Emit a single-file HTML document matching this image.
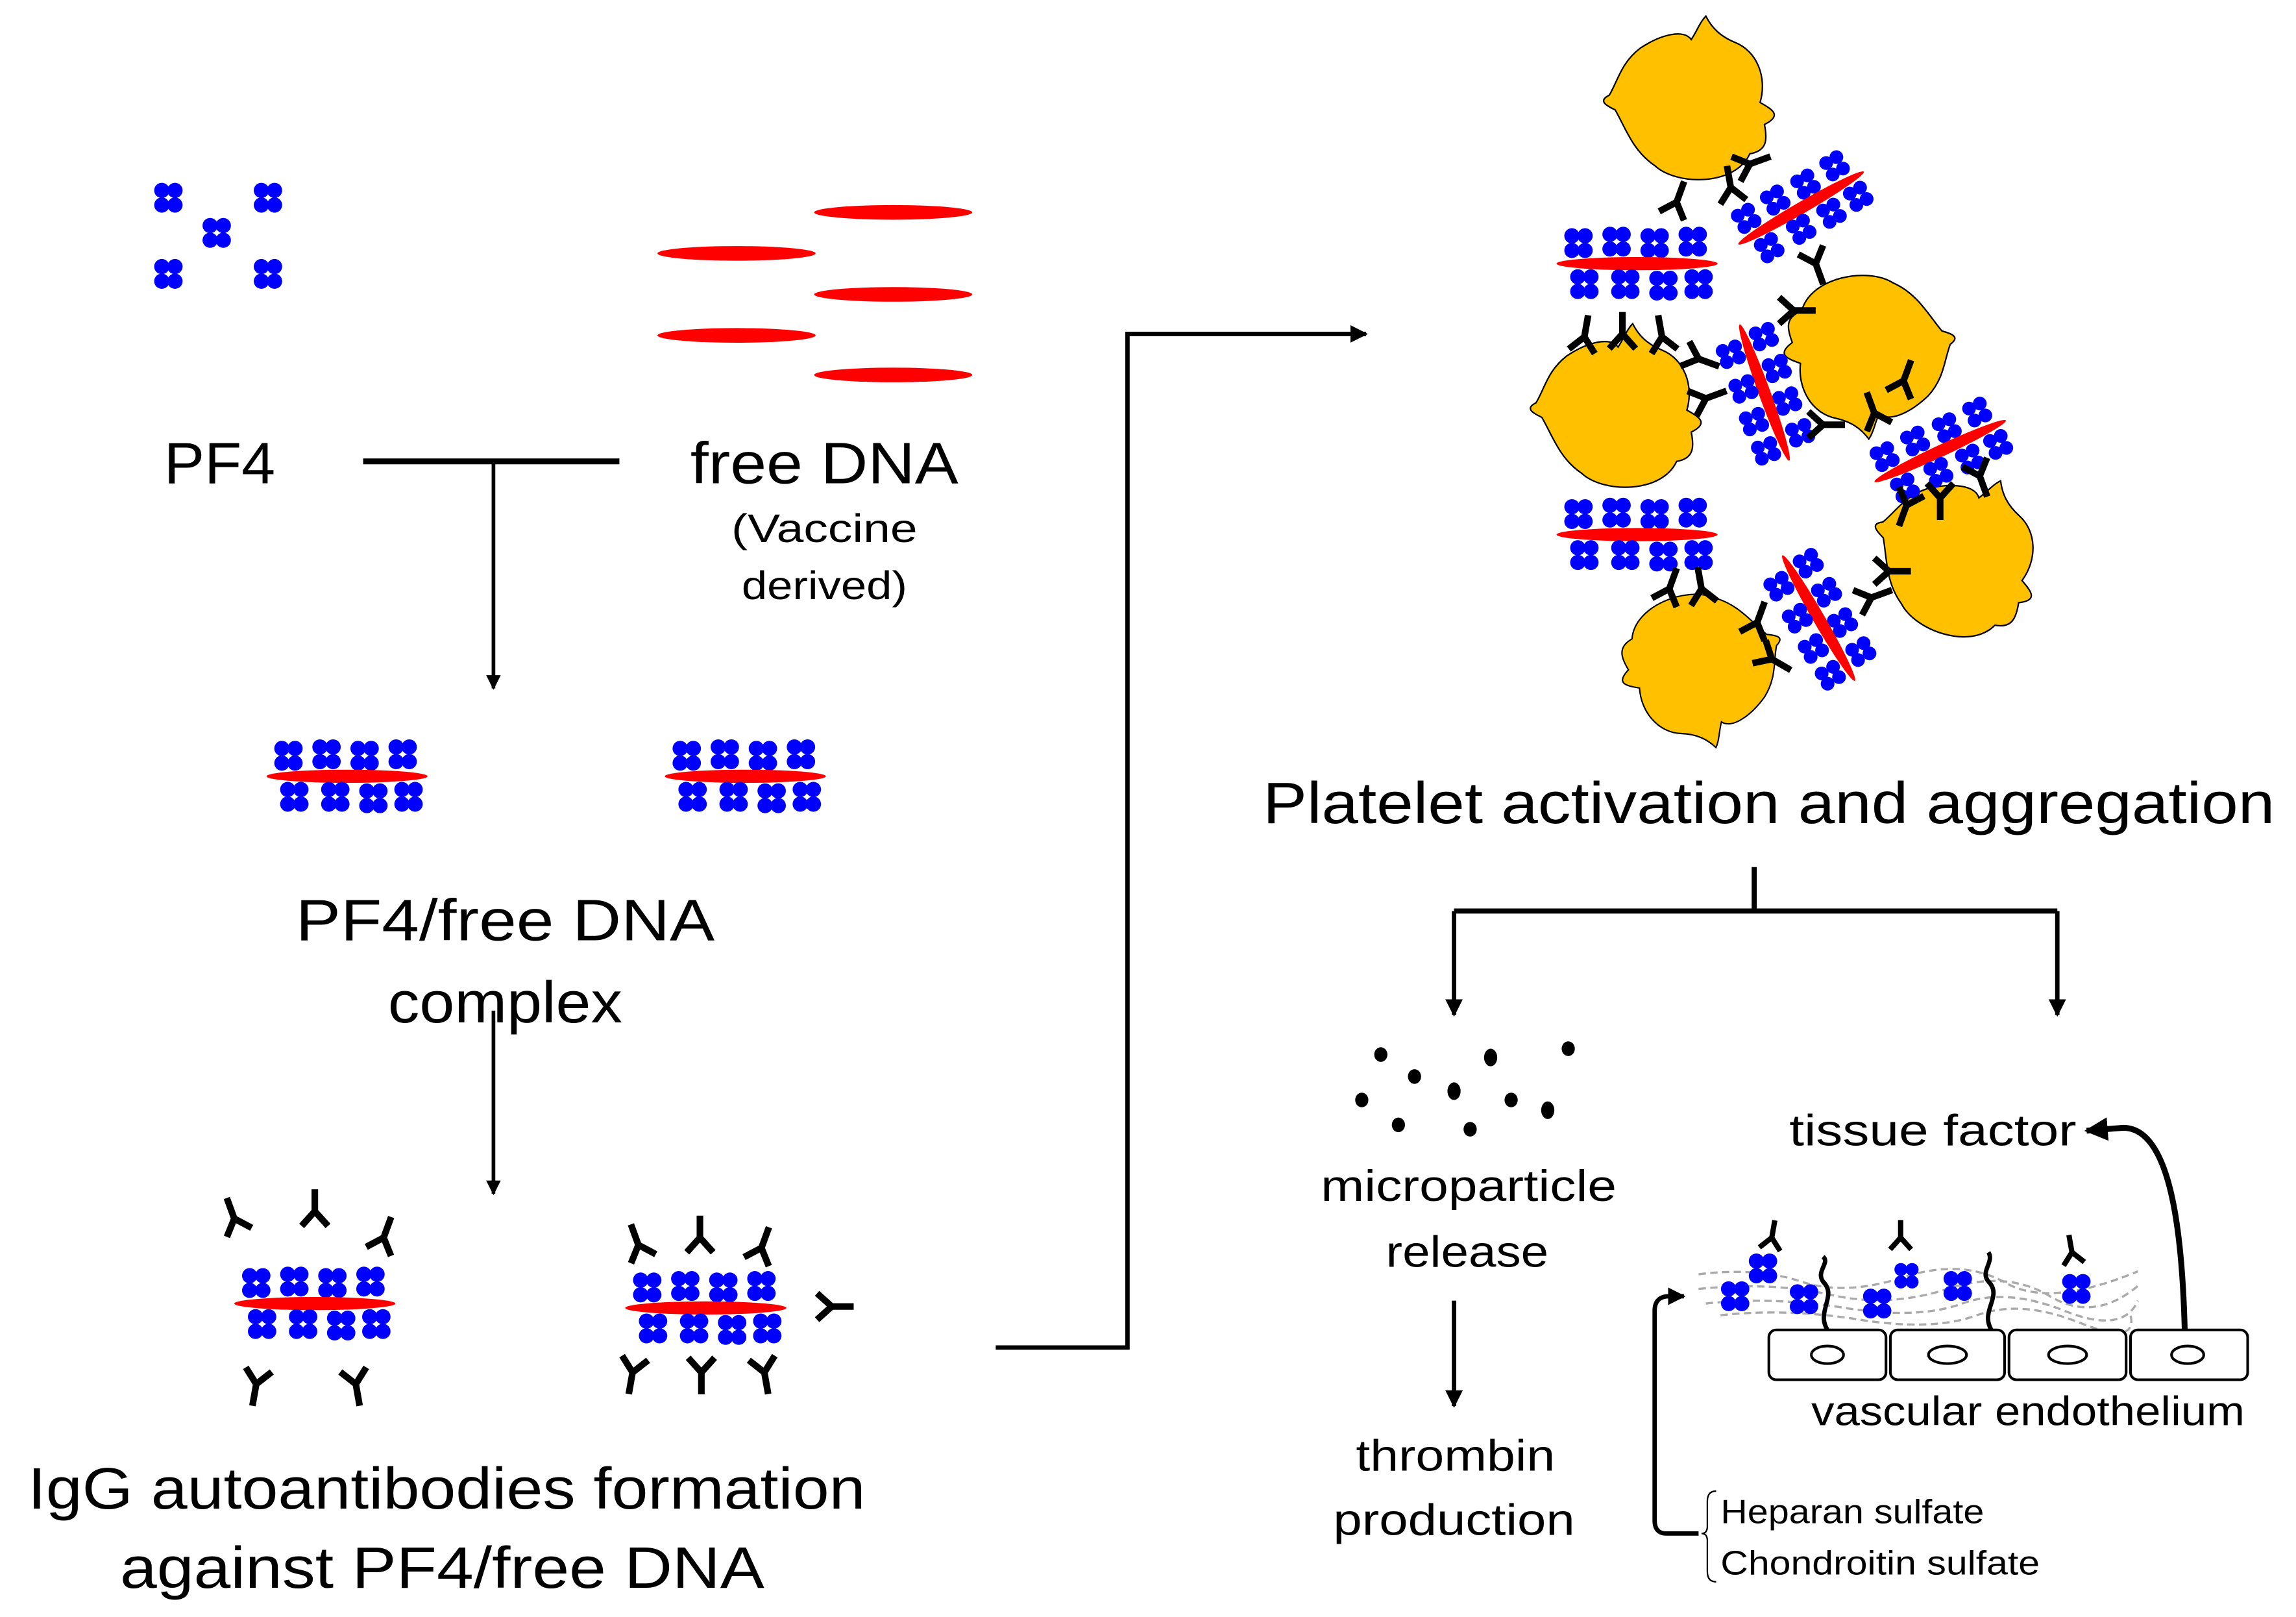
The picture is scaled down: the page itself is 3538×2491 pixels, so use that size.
<!DOCTYPE html>
<html><head><meta charset="utf-8"><style>html,body{margin:0;padding:0;background:#fff}svg{display:block}text{font-family:"Liberation Sans",sans-serif;fill:#000}</style></head><body>
<svg width="3538" height="2491" viewBox="0 0 1568 1104" preserveAspectRatio="none" xmlns="http://www.w3.org/2000/svg">
<defs>
<g id="t"><circle cx="-4.5" cy="-5" r="5.2" fill="#0000ff"/><circle cx="4.5" cy="-5" r="5.2" fill="#0000ff"/><circle cx="-4.5" cy="5" r="5.2" fill="#0000ff"/><circle cx="4.5" cy="5" r="5.2" fill="#0000ff"/></g>
<g id="c"><use href="#t" x="-40" y="-14"/><use href="#t" x="-14" y="-15"/><use href="#t" x="12" y="-14"/><use href="#t" x="38" y="-15"/><ellipse cx="0" cy="0" rx="55" ry="4.5" fill="#ff0000"/><use href="#t" x="-36" y="14"/><use href="#t" x="-8" y="14"/><use href="#t" x="18" y="15"/><use href="#t" x="42" y="14"/></g>
<g id="a"><path d="M0,15 L0,0 L-9,-10 M0,0 L9,-10" stroke="#000" stroke-width="4.5" fill="none"/></g>
<path id="p" d="M-40,-30 C-30,-52 10,-52 25,-38 C40,-28 45,-12 52,0 C58,3 64,6 56,10 C50,20 48,32 35,42 C20,52 5,55 0,48 C-4,54 -6,60 -10,64 C-14,56 -20,50 -30,46 C-45,40 -52,22 -47,5 C-56,0 -62,-4 -50,-10 C-52,-20 -52,-28 -40,-30 Z" fill="#ffc000" stroke="#000" stroke-width="1"/>
<marker id="m" viewBox="0 0 10 10" refX="9" refY="5" markerWidth="4" markerHeight="4" orient="auto"><path d="M0,0 L10,5 L0,10 Z" fill="#000"/></marker>
</defs>
<use href="#t" x="115" y="135"/><use href="#t" x="183" y="135"/><use href="#t" x="148" y="159"/><use href="#t" x="115" y="187"/><use href="#t" x="183" y="187"/>
<g fill="#ff0000"><ellipse cx="610" cy="145" rx="54" ry="5"/><ellipse cx="503" cy="173" rx="54" ry="5"/><ellipse cx="610" cy="201" rx="54" ry="5"/><ellipse cx="503" cy="229" rx="54" ry="5"/><ellipse cx="610" cy="256" rx="54" ry="5"/></g>
<text x="150" y="330" font-size="40" text-anchor="middle" textLength="76" lengthAdjust="spacingAndGlyphs">PF4</text>
<text x="563" y="330" font-size="40" text-anchor="middle" textLength="183" lengthAdjust="spacingAndGlyphs">free DNA</text>
<text x="563" y="370" font-size="27" text-anchor="middle" textLength="127" lengthAdjust="spacingAndGlyphs">(Vaccine</text>
<text x="563" y="409" font-size="27" text-anchor="middle" textLength="113" lengthAdjust="spacingAndGlyphs">derived)</text>
<g stroke="#000" fill="none">
<path d="M248,315 H423" stroke-width="4"/>
<path d="M337,315 V470" stroke-width="2.5" marker-end="url(#m)"/>
<path d="M337,690 V815" stroke-width="2.5" marker-end="url(#m)"/>
<path d="M680,920 H770 V228 H933" stroke-width="3" marker-end="url(#m)"/>
<path d="M1198,592 V622 M993,622 H1405" stroke-width="3.5"/>
<path d="M993,622 V693" stroke-width="3" marker-end="url(#m)"/>
<path d="M1405,622 V693" stroke-width="3" marker-end="url(#m)"/>
<path d="M993,888 V960" stroke-width="3" marker-end="url(#m)"/>
<path d="M1492,908 C1490,830 1480,770 1450,770 L1425,772" stroke-width="4" marker-end="url(#m)"/>
<path d="M1160,1047 H1138 Q1130,1047 1130,1038 V895 Q1130,885 1140,885 H1150" stroke-width="3" marker-end="url(#m)"/>
</g>
<use href="#c" x="237" y="530"/>
<use href="#c" x="509" y="530"/>
<text x="345" y="642" font-size="40" text-anchor="middle" textLength="286" lengthAdjust="spacingAndGlyphs">PF4/free DNA</text>
<text x="345" y="698" font-size="40" text-anchor="middle" textLength="160" lengthAdjust="spacingAndGlyphs">complex</text>
<use href="#c" x="215" y="890"/><use href="#c" x="482" y="893"/>
<use href="#a" transform="translate(160,832) rotate(160)"/><use href="#a" transform="translate(215,827) rotate(180)"/><use href="#a" transform="translate(262,845) rotate(200)"/>
<use href="#a" transform="translate(175,945) rotate(10)"/><use href="#a" transform="translate(243,945) rotate(-10)"/>
<use href="#a" transform="translate(436,850) rotate(160)"/><use href="#a" transform="translate(478,845) rotate(180)"/><use href="#a" transform="translate(520,852) rotate(200)"/>
<use href="#a" transform="translate(432,937) rotate(10)"/><use href="#a" transform="translate(479,937)"/><use href="#a" transform="translate(522,937) rotate(-10)"/>
<use href="#a" transform="translate(568,892) rotate(-90)"/>
<text x="305" y="1030" font-size="40" text-anchor="middle" textLength="572" lengthAdjust="spacingAndGlyphs">IgG autoantibodies formation</text>
<text x="302" y="1084" font-size="40" text-anchor="middle" textLength="440" lengthAdjust="spacingAndGlyphs">against PF4/free DNA</text>
<use href="#p" transform="translate(1155,75) rotate(180)"/>
<use href="#p" transform="translate(1275,235) rotate(-10)"/>
<use href="#p" transform="translate(1105,285) rotate(180)"/>
<use href="#p" transform="translate(1335,385) rotate(200)"/>
<use href="#p" transform="translate(1160,450) rotate(-20) scale(0.95)"/>
<use href="#c" x="1118" y="180"/><use href="#c" x="1118" y="365"/>
<use href="#c" transform="translate(1230,142) rotate(-30) scale(0.9)"/>
<use href="#c" transform="translate(1205,268) rotate(70) scale(0.9)"/>
<use href="#c" transform="translate(1325,308) rotate(-25) scale(0.9)"/>
<use href="#c" transform="translate(1242,422) rotate(60) scale(0.9)"/>
<g>
<use href="#a" transform="translate(1145,138) rotate(200)"/><use href="#a" transform="translate(1182,128) rotate(170)"/><use href="#a" transform="translate(1195,112) rotate(250)"/>
<use href="#a" transform="translate(1240,180) rotate(-20)"/><use href="#a" transform="translate(1225,212) rotate(-90)"/>
<use href="#a" transform="translate(1082,230) rotate(190)"/><use href="#a" transform="translate(1108,228) rotate(180)"/><use href="#a" transform="translate(1135,230) rotate(170)"/>
<use href="#a" transform="translate(1160,245) rotate(-70)"/><use href="#a" transform="translate(1165,272) rotate(-110)"/>
<use href="#a" transform="translate(1245,290) rotate(-90)"/><use href="#a" transform="translate(1280,282) rotate(160)"/><use href="#a" transform="translate(1300,260) rotate(200)"/>
<use href="#a" transform="translate(1302,345) rotate(20)"/><use href="#a" transform="translate(1325,340)"/><use href="#a" transform="translate(1352,325) rotate(-20)"/>
<use href="#a" transform="translate(1140,402) rotate(200)"/><use href="#a" transform="translate(1162,402) rotate(170)"/>
<use href="#a" transform="translate(1200,425) rotate(200)"/><use href="#a" transform="translate(1210,450) rotate(-60)"/>
<use href="#a" transform="translate(1278,408) rotate(-110)"/><use href="#a" transform="translate(1290,390) rotate(-90)"/>
</g>
<text x="1208" y="562" font-size="40" text-anchor="middle" textLength="691" lengthAdjust="spacingAndGlyphs">Platelet activation and aggregation</text>
<g fill="#000"><ellipse cx="943" cy="720" rx="4.5" ry="5"/><ellipse cx="1018" cy="722" rx="4.5" ry="6"/><ellipse cx="1071" cy="716" rx="4.5" ry="5"/><ellipse cx="966" cy="735" rx="4.5" ry="5"/><ellipse cx="993" cy="745" rx="4.5" ry="6"/><ellipse cx="930" cy="751" rx="4.5" ry="5"/><ellipse cx="1032" cy="751" rx="4.5" ry="5"/><ellipse cx="1057" cy="758" rx="4.5" ry="6"/><ellipse cx="955" cy="768" rx="4.5" ry="5"/><ellipse cx="1004" cy="771" rx="4.5" ry="5"/></g>
<text x="1003" y="820" font-size="30" text-anchor="middle" textLength="202" lengthAdjust="spacingAndGlyphs">microparticle</text>
<text x="1002" y="865" font-size="30" text-anchor="middle" textLength="111" lengthAdjust="spacingAndGlyphs">release</text>
<text x="994" y="1004" font-size="30" text-anchor="middle" textLength="136" lengthAdjust="spacingAndGlyphs">thrombin</text>
<text x="993" y="1048" font-size="30" text-anchor="middle" textLength="165" lengthAdjust="spacingAndGlyphs">production</text>
<text x="1320" y="782" font-size="30" text-anchor="middle" textLength="196" lengthAdjust="spacingAndGlyphs">tissue factor</text>
<g stroke="#aaa" stroke-width="1.5" stroke-dasharray="5,3" fill="none">
<path d="M1160,870 Q1200,865 1230,875 T1300,872 T1370,876 T1460,868"/>
<path d="M1160,880 Q1210,875 1250,884 T1330,880 T1400,885 T1460,878"/>
<path d="M1165,890 Q1210,885 1260,893 T1340,890 T1410,895 T1460,888"/>
<path d="M1175,898 Q1220,893 1270,901 T1350,898 T1420,903 T1455,898"/>
</g>
<g stroke="#000" stroke-width="3" fill="none">
<path d="M1248,908 C1240,895 1255,885 1245,875 C1240,868 1250,862 1245,858"/>
<path d="M1360,908 C1352,895 1368,885 1358,875 C1352,868 1362,862 1358,855"/>
</g>
<use href="#t" transform="translate(1204,866)"/><use href="#t" transform="translate(1185,885)"/><use href="#t" transform="translate(1232,887)"/>
<use href="#t" transform="translate(1302,871) scale(0.85)"/><use href="#t" transform="translate(1282,890)"/><use href="#t" transform="translate(1337,878)"/><use href="#t" transform="translate(1418,880)"/>
<use href="#a" transform="translate(1210,845) rotate(190) scale(0.8)"/><use href="#a" transform="translate(1298,845) rotate(180) scale(0.8)"/><use href="#a" transform="translate(1415,855) rotate(170) scale(0.8)"/>
<g stroke="#000" stroke-width="1.8" fill="#fff">
<rect x="1208" y="908" width="80" height="34" rx="5"/><rect x="1291" y="908" width="78" height="34" rx="5"/><rect x="1372" y="908" width="80" height="34" rx="5"/><rect x="1455" y="908" width="80" height="34" rx="5"/>
<ellipse cx="1248" cy="925" rx="11" ry="6"/><ellipse cx="1330" cy="925" rx="13" ry="6"/><ellipse cx="1412" cy="925" rx="13" ry="6"/><ellipse cx="1494" cy="925" rx="11" ry="6"/>
</g>
<text x="1385" y="973" font-size="28" text-anchor="middle" textLength="296" lengthAdjust="spacingAndGlyphs">vascular endothelium</text>
<path d="M1172,1018 Q1166,1018 1166,1025 V1042 Q1166,1047 1162,1047 Q1166,1047 1166,1052 V1073 Q1166,1080 1172,1080" stroke="#000" stroke-width="1" fill="none"/>
<text x="1175" y="1040" font-size="23" textLength="180" lengthAdjust="spacingAndGlyphs">Heparan sulfate</text>
<text x="1175" y="1075" font-size="23" textLength="218" lengthAdjust="spacingAndGlyphs">Chondroitin sulfate</text>
</svg>
</body></html>
